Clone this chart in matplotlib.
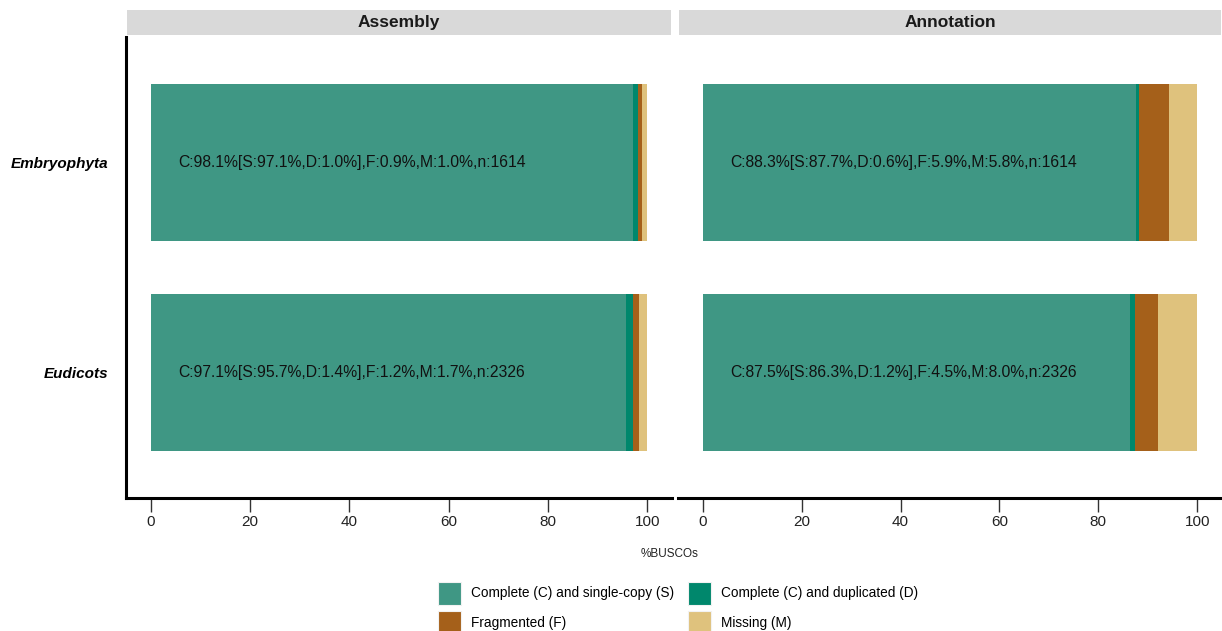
import matplotlib
matplotlib.use('Agg')
import matplotlib.pyplot as plt
from matplotlib.patches import Patch
import numpy as np

# datos BUSCO
panels = ['Assembly', 'Annotation']
lineages = ['Embryophyta', 'Eudicots']
categories = ['Complete (C) and single-copy (S)', 'Complete (C) and duplicated (D)',
              'Fragmented (F)', 'Missing (M)']
single = {'Assembly': [97.1, 95.7], 'Annotation': [87.7, 86.3]}
duplicated = {'Assembly': [1.0, 1.4], 'Annotation': [0.6, 1.2]}
fragmented = {'Assembly': [0.9, 1.2], 'Annotation': [5.9, 4.5]}
missing = {'Assembly': [1.0, 1.7], 'Annotation': [5.8, 8.0]}
labels = {'Assembly': ['C:98.1%[S:97.1%,D:1.0%],F:0.9%,M:1.0%,n:1614',
                       'C:97.1%[S:95.7%,D:1.4%],F:1.2%,M:1.7%,n:2326'],
          'Annotation': ['C:88.3%[S:87.7%,D:0.6%],F:5.9%,M:5.8%,n:1614',
                         'C:87.5%[S:86.3%,D:1.2%],F:4.5%,M:8.0%,n:2326']}
colors = ['#3F9784', '#00876C', '#A5601A', '#DFC27D']

plt.rcParams['font.family'] = ['Liberation Sans', 'DejaVu Sans']

fig = plt.figure(figsize=(12.22, 6.31), dpi=100)
W, H = 1222, 631
boxes = [(126, 672), (678, 1222)]
y_top, y_bot = 37, 498

for i, p in enumerate(panels):
    x0, x1 = boxes[i]
    ax = fig.add_axes([x0 / W, 1 - y_bot / H, (x1 - x0) / W, (y_bot - y_top) / H])
    ypos = np.arange(len(lineages))
    left = np.zeros(len(lineages))
    for vals, c in zip([single[p], duplicated[p], fragmented[p], missing[p]], colors):
        ax.barh(ypos, vals, left=left, height=0.75, color=c, linewidth=0)
        left += np.array(vals)
    for j, t in enumerate(labels[p]):
        ax.text(5.6, ypos[j], t, ha='left', va='center', fontsize=11.3, color='#111111')
    ax.set_xlim(-5, 105)
    ax.set_ylim(1.6, -0.6)
    ax.set_xticks([0, 20, 40, 60, 80, 100])
    ax.tick_params(axis='x', length=10, width=1, color='#333333', labelsize=11,
                   labelcolor='#222222', pad=2)
    for s in ['top', 'right']:
        ax.spines[s].set_visible(False)
    ax.spines['bottom'].set_linewidth(2.2)
    if i == 0:
        ax.spines['left'].set_linewidth(2.2)
        ax.set_yticks(ypos)
        ax.set_yticklabels(lineages, fontsize=11, fontweight='bold', fontstyle='italic')
        ax.tick_params(axis='y', length=0, pad=13)
    else:
        ax.spines['left'].set_visible(False)
        ax.set_yticks([])
    # franja del panel
    sx = fig.add_axes([x0 / W + 0.0008, 1 - 35 / H, (x1 - x0) / W - 0.0016, 25 / H])
    sx.set_facecolor('#D9D9D9')
    sx.set_xticks([])
    sx.set_yticks([])
    for s in sx.spines.values():
        s.set_visible(False)
    sx.text(0.5, 0.5, p, ha='center', va='center', fontsize=12.5, fontweight='bold',
            color='#1a1a1a', transform=sx.transAxes)

fig.text(670 / W, 1 - 554 / H, '%BUSCOs', ha='center', va='center', fontsize=8.5,
         color='#222222')

# orden por filas como en ggplot: S, D / F, M
order = [0, 2, 1, 3]
handles = [Patch(facecolor=colors[k], edgecolor='#f2f2f2', linewidth=0.8) for k in order]
fig.legend(handles, [categories[k] for k in order], loc='center',
           bbox_to_anchor=(678 / W, 1 - 608 / H),
           ncol=2, frameon=False, fontsize=9.8, handlelength=1.69, handleheight=2.23,
           columnspacing=1.05, labelspacing=0.5, handletextpad=0.75)

plt.savefig('out.png', dpi=100)
